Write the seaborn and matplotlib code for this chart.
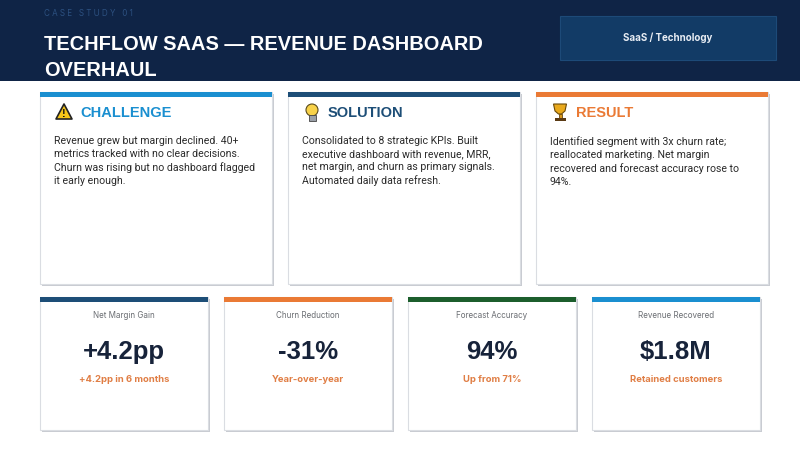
import matplotlib

matplotlib.use("Agg")
import matplotlib.pyplot as plt
import matplotlib.patches as mpatches
import seaborn as sns

# header
EYEBROW = "C A S E   S T U D Y   0 1"
TITLE_LINES = ["TECHFLOW SAAS — REVENUE DASHBOARD", "OVERHAUL"]
SECTOR = "SaaS / Technology"

# story cards
CARD_TITLES = ["CHALLENGE", "SOLUTION", "RESULT"]
CARD_ICONS = ["warning", "bulb", "trophy"]
CARD_COLORS = ["#1a8fd0", "#1d4e77", "#ea7a35"]
CARD_BODIES = [
    ["Revenue grew but margin declined. 40+",
     "metrics tracked with no clear decisions.",
     "Churn was rising but no dashboard flagged",
     "it early enough."],
    ["Consolidated to 8 strategic KPIs. Built",
     "executive dashboard with revenue, MRR,",
     "net margin, and churn as primary signals.",
     "Automated daily data refresh."],
    ["Identified segment with 3x churn rate;",
     "reallocated marketing. Net margin",
     "recovered and forecast accuracy rose to",
     "94%."],
]

# KPI cards
KPI_LABELS = ["Net Margin Gain", "Churn Reduction", "Forecast Accuracy", "Revenue Recovered"]
KPI_VALUES = ["+4.2pp", "-31%", "94%", "$1.8M"]
KPI_NOTES = ["+4.2pp in 6 months", "Year-over-year", "Up from 71%", "Retained customers"]
KPI_COLORS = ["#1d4e77", "#ea7a35", "#1c5e2c", "#1a8fd0"]

NAVY = "#0f2446"
HEAD_FONT = ["Liberation Sans", "DejaVu Sans"]
BODY_FONT = ["Inter", "DejaVu Sans"]
TEXT_FONT = ["Roboto", "DejaVu Sans"]


def card(ax, x, y, w, h, bar_color):
    ax.add_patch(mpatches.Rectangle((x + 1.5, y + 2), w, h, facecolor="#c9ccd2",
                                    edgecolor="none", zorder=1))
    ax.add_patch(mpatches.Rectangle((x, y), w, h, facecolor="white",
                                    edgecolor="#dadde2", linewidth=0.8, zorder=2))
    ax.add_patch(mpatches.Rectangle((x, y), w, 5, facecolor=bar_color,
                                    edgecolor="none", zorder=3))


def icon(ax, kind, cx, cy):
    if kind == "warning":
        ax.add_patch(mpatches.Polygon([(cx - 8, cy + 7), (cx + 8, cy + 7), (cx, cy - 8)],
                                      closed=True, facecolor="#f6c619", edgecolor="#222",
                                      linewidth=1.2, joinstyle="round", zorder=4))
        ax.text(cx, cy + 2, "!", ha="center", va="center", fontsize=8, fontweight="bold",
                color="#111", family=HEAD_FONT, zorder=5)
    elif kind == "bulb":
        ax.add_patch(mpatches.Circle((cx, cy - 2), 6, facecolor="#f8d24a",
                                     edgecolor="#5a4a1a", linewidth=0.8, zorder=4))
        ax.add_patch(mpatches.Rectangle((cx - 3.5, cy + 3), 7, 6, facecolor="#9aa0a8",
                                        edgecolor="#444", linewidth=0.6, zorder=5))
    else:
        ax.add_patch(mpatches.Polygon([(cx - 6.5, cy - 8), (cx + 6.5, cy - 8), (cx + 5, cy - 1),
                                       (cx + 1.5, cy + 2), (cx - 1.5, cy + 2), (cx - 5, cy - 1)],
                                      closed=True, facecolor="#e9a91c", edgecolor="#6b4a0a",
                                      linewidth=0.8, zorder=4))
        ax.add_patch(mpatches.Rectangle((cx - 1.5, cy + 2), 3, 3.5, facecolor="#d9961a",
                                        edgecolor="#6b4a0a", linewidth=0.6, zorder=4))
        ax.add_patch(mpatches.Rectangle((cx - 5.5, cy + 5.5), 11, 3.5, facecolor="#5a3a14",
                                        edgecolor="none", zorder=4))


sns.set_theme(style="white")
fig = plt.figure(figsize=(8, 4.5), dpi=100)
ax = fig.add_axes([0, 0, 1, 1])
ax.set_xlim(0, 800)
ax.set_ylim(450, 0)
ax.axis("off")

# header band
ax.add_patch(mpatches.Rectangle((0, 0), 800, 81, facecolor=NAVY, edgecolor="none", zorder=0))
ax.text(44, 13, EYEBROW, ha="left", va="center", fontsize=5.8, color="#2c5080",
        family=BODY_FONT)
for i, line in enumerate(TITLE_LINES):
    ax.text(44, 44 + i * 26, line, ha="left", va="center", fontsize=14.4,
            fontweight="bold", color="white", family=HEAD_FONT)
ax.add_patch(mpatches.Rectangle((560, 16), 216, 44, facecolor="#123b66",
                                edgecolor="#1d4a78", linewidth=0.8, zorder=1))
ax.text(668, 38, SECTOR, ha="center", va="center", fontsize=7, fontweight="bold",
        color="#e8edf4", family=BODY_FONT, zorder=2)

# story cards
for i, (title, kind, color, body) in enumerate(zip(CARD_TITLES, CARD_ICONS, CARD_COLORS, CARD_BODIES)):
    x0 = 40 + i * 248
    card(ax, x0, 92, 232, 192, color)
    icon(ax, kind, x0 + 24, 112)
    ax.text(x0 + 40, 113, title, ha="left", va="center", fontsize=10.5,
            fontweight="bold", color=color, family=HEAD_FONT, zorder=5)
    ax.text(x0 + 14, 136, "\n".join(body), ha="left", va="top", fontsize=7.6,
            color="#2b2b2b", family=TEXT_FONT, linespacing=1.36, zorder=5)

# KPI cards
for i, (label, value, note, color) in enumerate(zip(KPI_LABELS, KPI_VALUES, KPI_NOTES, KPI_COLORS)):
    x0 = 40 + i * 184
    cx = x0 + 84
    card(ax, x0, 297, 168, 133, color)
    ax.text(cx, 316, label, ha="center", va="center", fontsize=5.8, color="#6b6e73",
            family=BODY_FONT, zorder=5)
    ax.text(cx, 352, value, ha="center", va="center", fontsize=18.5, fontweight="bold",
            color="#17233a", family=HEAD_FONT, zorder=5)
    ax.text(cx, 380, note, ha="center", va="center", fontsize=6.8, fontweight="bold",
            color="#e07e45", family=BODY_FONT, zorder=5)

fig.savefig("out.png", dpi=100, facecolor="white")
